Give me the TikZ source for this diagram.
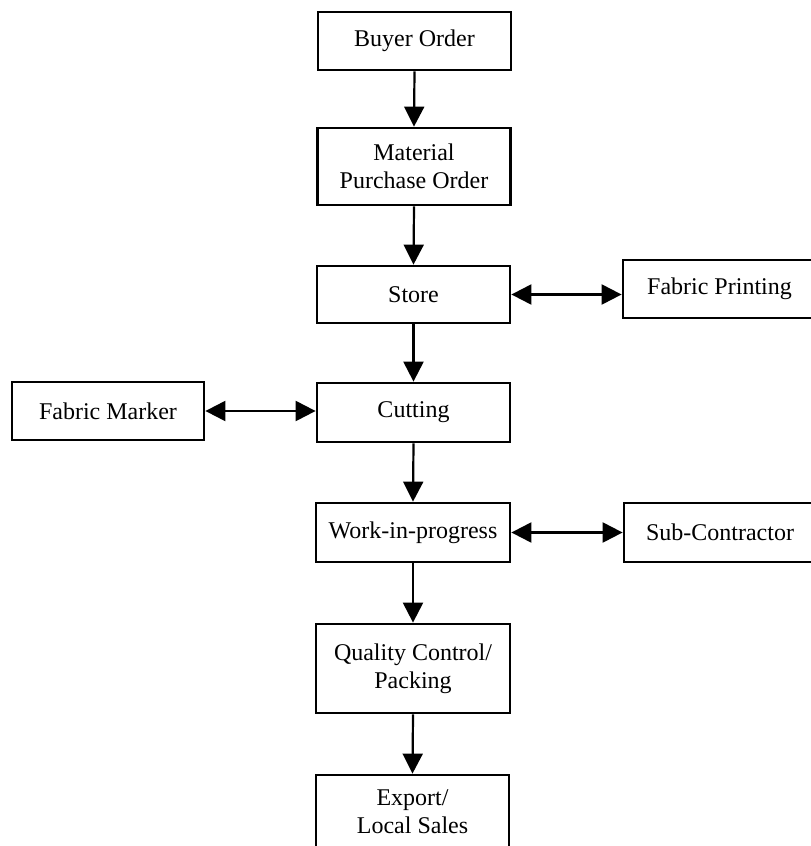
\documentclass[tikz,border=0pt]{standalone}
\usepackage{fontspec}
\setmainfont{Liberation Serif}
\usetikzlibrary{arrows.meta}
\tikzset{
	hop/.style={draw, line width=1.4pt, minimum width=96.5pt, inner sep=0pt, align=center, font=\fontsize{12}{14}\selectfont},
	muiten/.style={line width=1.1pt, -{Triangle[length=10pt,width=10pt]}},
	haichieu/.style={line width=1.1pt, {Triangle[length=10pt,width=10pt]}-{Triangle[length=10pt,width=10pt]}}
}
\begin{document}
\begin{tikzpicture}[x=0.5pt,y=-0.5pt]
	
	\useasboundingbox (0,0) rectangle (810,846); % Khung hình
	
	% Cột chính
	\node[hop, minimum height=29pt] (buyer) at (414.5,41) {Buyer Order};
	\node[hop, minimum height=38.5pt] (material) at (414,166.5) {Material\\Purchase Order};
	\node[hop, minimum height=28.5pt] (store) at (413.5,294.5) {Store};
	\node[hop, minimum height=29.5pt] (cutting) at (413.5,412.5) {Cutting};
	\node[hop, minimum height=29.5pt, minimum width=97pt] (wip) at (413,532.5) {Work-in-progress};
	\node[hop, minimum height=44.5pt, minimum width=97pt] (qc) at (413,668.5) {Quality Control/\\Packing};
	\node[hop, minimum height=36.5pt] (export) at (412.5,811.5) {Export/\\Local Sales};
	
	% Các hộp bên cạnh
	\node[hop, minimum height=29pt] (printing) at (719.5,289) {Fabric Printing};
	\node[hop, minimum height=29pt, minimum width=96pt] (marker) at (108,411) {Fabric Marker};
	\node[hop, minimum height=29.5pt, minimum width=96pt] (sub) at (720,532.5) {Sub-Contractor};
	
	% Mũi tên dọc
	\draw[muiten] (buyer.south) -- (material.north);
	\draw[muiten] (material.south) -- (store.north);
	\draw[muiten] (store.south) -- (cutting.north);
	\draw[muiten] (cutting.south) -- (wip.north);
	\draw[muiten] (wip.south) -- (qc.north);
	\draw[muiten] (qc.south) -- (export.north);
	
	% Mũi tên hai chiều
	\draw[haichieu] (store.east) -- (store.east -| printing.west);
	\draw[haichieu] (marker.east) -- (marker.east -| cutting.west);
	\draw[haichieu] (wip.east) -- (wip.east -| sub.west);
	
\end{tikzpicture}
\end{document}
